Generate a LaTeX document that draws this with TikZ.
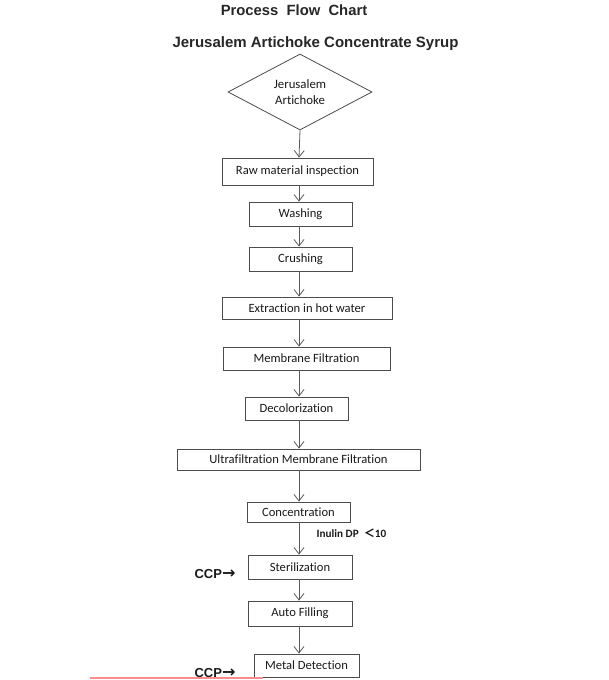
\documentclass[tikz,border=0pt]{standalone}
\usepackage{fontspec}
\setmainfont{Carlito}[Ligatures=NoCommon]
\newfontfamily\headfont{Liberation Sans}
\newfontfamily\arrowfont{DejaVu Sans}
\newfontfamily\cjk{Noto Sans CJK SC}
\usetikzlibrary{shapes.geometric,arrows.meta}

\tikzset{
  stage/.style={draw=black!70, line width=0.8pt, inner sep=0pt,
    font=\fontsize{12.6}{14}\selectfont, text=black!90},
  flow/.style={draw=black!65, line width=0.8pt,
    -{Straight Barb[length=6.5pt,width=10pt]}},
  ccp/.style={font=\headfont\bfseries\fontsize{13}{15}\selectfont, text=black!90}
}

\begin{document}
\begin{tikzpicture}[x=1pt,y=-1pt]

\useasboundingbox (0,0) rectangle (609,680);

% Titres
\node[font=\headfont\bfseries\fontsize{14.8}{16}\selectfont, text=black!85]
(title) at (294,10)
{Process~ Flow~ Chart};

\node[font=\headfont\bfseries\fontsize{15}{17}\selectfont, text=black!85]
(product) at (315.5,44)
{Jerusalem Artichoke Concentrate Syrup};

\node[diamond, aspect=2, draw=black!70, line width=0.8pt, inner sep=0pt,
  minimum width=144pt, minimum height=76pt,
  font=\fontsize{12.8}{16}\selectfont, align=center, text=black!90]
(raw0) at (300,92)
{Jerusalem\\Artichoke};

\node[stage, minimum width=151pt, minimum height=27pt]
(inspect) at (297.5,171.5)
{Raw material inspection};

\node[stage, minimum width=103pt, minimum height=24pt]
(wash) at (300.5,214)
{Washing};

\node[stage, minimum width=103pt, minimum height=24pt]
(crush) at (300.5,259)
{Crushing};

\node[stage, minimum width=170pt, minimum height=22pt]
(extract) at (307,308)
{Extraction in hot water};

\node[stage, minimum width=167pt, minimum height=23pt]
(membrane) at (306.5,358.5)
{Membrane Filtration};

\node[stage, minimum width=103pt, minimum height=23pt]
(decolor) at (296.5,408.5)
{Decolorization};

\node[stage, minimum width=243pt, minimum height=21pt]
(ultra) at (298.5,459.5)
{Ultrafiltration Membrane Filtration};

\node[stage, minimum width=103pt, minimum height=20pt]
(concentrate) at (298.5,512)
{Concentration};

\node[stage, minimum width=104pt, minimum height=24pt]
(sterile) at (300,567)
{Sterilization};

\node[stage, minimum width=104pt, minimum height=25pt]
(filling) at (300,613.5)
{Auto Filling};

\node[stage, minimum width=105pt, minimum height=23pt]
(metal) at (306.5,665.5)
{Metal Detection};

% Fleches
\coordinate (spine) at (299,0);

\draw[flow]
(raw0.south)
--
(inspect.north -| spine);

\foreach \a/\b in {inspect/wash, wash/crush, crush/extract,
  extract/membrane, membrane/decolor, decolor/ultra,
  ultra/concentrate, concentrate/sterile, sterile/filling, filling/metal}
  \draw[flow] (\a.south -| spine) -- (\b.north -| spine);

\node[font=\bfseries\fontsize{11.2}{13}\selectfont, text=black!90]
(inulin) at (351.5,533)
{Inulin DP~ {\cjk ＜}10};

\node[ccp]
(ccp1) at (215,574)
{CCP{\arrowfont\bfseries\fontsize{16}{15}\selectfont →}};

\node[ccp]
(ccp2) at (215,673)
{CCP{\arrowfont\bfseries\fontsize{16}{15}\selectfont →}};

% trait rouge du scan
\draw[red!45, line width=2pt]
(90,678)
--
(263,678);

\end{tikzpicture}
\end{document}
